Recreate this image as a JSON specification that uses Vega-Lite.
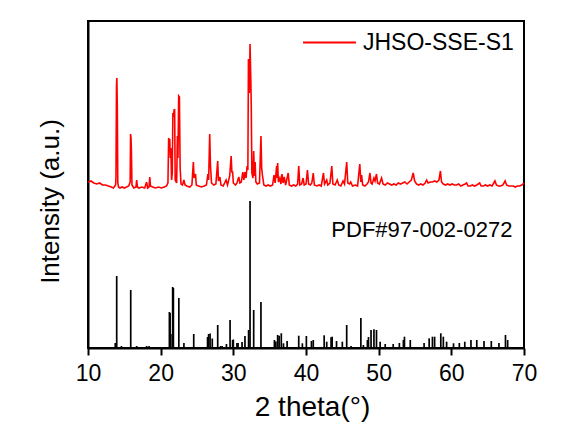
{
  "$schema": "https://vega.github.io/schema/vega-lite/v6.json",
  "autosize": {"type": "none"},
  "padding": {"left": 88, "top": 21, "right": 60, "bottom": 90},
  "width": 436,
  "height": 327,
  "background": "white",
  "config": {
    "font": "Liberation Sans",
    "view": {"stroke": "black", "strokeWidth": 2},
    "axis": {"domainColor": "black", "domainWidth": 2, "tickColor": "black", "tickWidth": 2, "labelColor": "black", "titleColor": "black", "grid": false, "titleFontWeight": "normal"}
  },
  "datasets": {
    "sample": [
      {"x": 10.0, "h": 166}, {"x": 10.4, "h": 167}, {"x": 10.8, "h": 165}, {"x": 11.2, "h": 164}, {"x": 11.6, "h": 165},
      {"x": 12.0, "h": 163}, {"x": 12.4, "h": 163}, {"x": 12.8, "h": 162}, {"x": 13.2, "h": 161}, {"x": 13.5, "h": 160},
      {"x": 13.8, "h": 163}, {"x": 13.85, "h": 171}, {"x": 13.92, "h": 262}, {"x": 13.97, "h": 270}, {"x": 14.03, "h": 243},
      {"x": 14.1, "h": 165}, {"x": 14.2, "h": 161}, {"x": 14.4, "h": 160}, {"x": 14.7, "h": 161}, {"x": 15.0, "h": 160},
      {"x": 15.3, "h": 161}, {"x": 15.6, "h": 162}, {"x": 15.8, "h": 166}, {"x": 15.86, "h": 214}, {"x": 15.92, "h": 210},
      {"x": 15.97, "h": 198}, {"x": 16.05, "h": 163}, {"x": 16.3, "h": 160}, {"x": 16.6, "h": 161}, {"x": 16.7, "h": 168},
      {"x": 16.8, "h": 161}, {"x": 17.0, "h": 160}, {"x": 17.4, "h": 161}, {"x": 17.8, "h": 160}, {"x": 18.07, "h": 166},
      {"x": 18.2, "h": 160}, {"x": 18.4, "h": 161}, {"x": 18.5, "h": 171}, {"x": 18.6, "h": 162}, {"x": 18.9, "h": 161},
      {"x": 19.3, "h": 160}, {"x": 19.7, "h": 161}, {"x": 20.1, "h": 160}, {"x": 20.5, "h": 161}, {"x": 20.8, "h": 162},
      {"x": 21.0, "h": 165}, {"x": 21.1, "h": 210}, {"x": 21.18, "h": 207}, {"x": 21.25, "h": 209}, {"x": 21.32, "h": 190},
      {"x": 21.4, "h": 200}, {"x": 21.5, "h": 168}, {"x": 21.6, "h": 175}, {"x": 21.68, "h": 235}, {"x": 21.75, "h": 231},
      {"x": 21.85, "h": 238}, {"x": 21.92, "h": 239}, {"x": 22.0, "h": 168}, {"x": 22.2, "h": 165}, {"x": 22.3, "h": 212},
      {"x": 22.38, "h": 190}, {"x": 22.48, "h": 252}, {"x": 22.58, "h": 251}, {"x": 22.68, "h": 180}, {"x": 22.8, "h": 164},
      {"x": 23.0, "h": 163}, {"x": 23.2, "h": 168}, {"x": 23.35, "h": 163}, {"x": 23.6, "h": 162}, {"x": 24.0, "h": 161},
      {"x": 24.3, "h": 163}, {"x": 24.5, "h": 186}, {"x": 24.6, "h": 170}, {"x": 24.8, "h": 174}, {"x": 24.9, "h": 163},
      {"x": 25.2, "h": 162}, {"x": 25.6, "h": 161}, {"x": 26.0, "h": 162}, {"x": 26.3, "h": 163}, {"x": 26.5, "h": 174},
      {"x": 26.6, "h": 168}, {"x": 26.75, "h": 214}, {"x": 26.85, "h": 183}, {"x": 27.0, "h": 165}, {"x": 27.3, "h": 163},
      {"x": 27.6, "h": 164}, {"x": 27.85, "h": 187}, {"x": 27.95, "h": 167}, {"x": 28.15, "h": 171}, {"x": 28.3, "h": 163},
      {"x": 28.6, "h": 162}, {"x": 29.0, "h": 168}, {"x": 29.2, "h": 163}, {"x": 29.5, "h": 172}, {"x": 29.6, "h": 182},
      {"x": 29.7, "h": 192}, {"x": 29.8, "h": 176}, {"x": 29.9, "h": 176}, {"x": 30.0, "h": 165}, {"x": 30.3, "h": 163},
      {"x": 30.5, "h": 165}, {"x": 30.75, "h": 171}, {"x": 30.9, "h": 165}, {"x": 31.1, "h": 166}, {"x": 31.3, "h": 176},
      {"x": 31.45, "h": 168}, {"x": 31.6, "h": 176}, {"x": 31.75, "h": 170}, {"x": 31.9, "h": 182}, {"x": 32.0, "h": 178},
      {"x": 32.08, "h": 289}, {"x": 32.2, "h": 255}, {"x": 32.3, "h": 304}, {"x": 32.4, "h": 270}, {"x": 32.47, "h": 241},
      {"x": 32.55, "h": 175}, {"x": 32.7, "h": 170}, {"x": 32.8, "h": 197}, {"x": 32.9, "h": 172}, {"x": 33.0, "h": 186},
      {"x": 33.1, "h": 166}, {"x": 33.3, "h": 164}, {"x": 33.6, "h": 165}, {"x": 33.8, "h": 212}, {"x": 33.9, "h": 180},
      {"x": 34.0, "h": 173}, {"x": 34.2, "h": 163}, {"x": 34.5, "h": 162}, {"x": 34.8, "h": 163}, {"x": 35.1, "h": 162},
      {"x": 35.4, "h": 163}, {"x": 35.6, "h": 173}, {"x": 35.75, "h": 165}, {"x": 35.96, "h": 182}, {"x": 36.05, "h": 170},
      {"x": 36.1, "h": 185}, {"x": 36.2, "h": 166}, {"x": 36.4, "h": 170}, {"x": 36.55, "h": 164}, {"x": 36.7, "h": 174},
      {"x": 36.85, "h": 165}, {"x": 37.0, "h": 171}, {"x": 37.2, "h": 163}, {"x": 37.55, "h": 175}, {"x": 37.7, "h": 163},
      {"x": 38.0, "h": 162}, {"x": 38.3, "h": 163}, {"x": 38.6, "h": 162}, {"x": 38.85, "h": 164}, {"x": 39.0, "h": 182},
      {"x": 39.15, "h": 163}, {"x": 39.4, "h": 164}, {"x": 39.6, "h": 170}, {"x": 39.75, "h": 163}, {"x": 40.0, "h": 164},
      {"x": 40.2, "h": 178}, {"x": 40.35, "h": 164}, {"x": 40.6, "h": 163}, {"x": 40.8, "h": 165}, {"x": 41.0, "h": 175},
      {"x": 41.15, "h": 163}, {"x": 41.5, "h": 162}, {"x": 41.8, "h": 163}, {"x": 42.1, "h": 162}, {"x": 42.4, "h": 175},
      {"x": 42.55, "h": 164}, {"x": 42.85, "h": 168}, {"x": 43.0, "h": 163}, {"x": 43.3, "h": 165}, {"x": 43.55, "h": 182},
      {"x": 43.7, "h": 164}, {"x": 44.0, "h": 163}, {"x": 44.3, "h": 168}, {"x": 44.5, "h": 163}, {"x": 44.8, "h": 162},
      {"x": 45.1, "h": 167}, {"x": 45.3, "h": 164}, {"x": 45.6, "h": 186}, {"x": 45.75, "h": 165}, {"x": 46.0, "h": 164},
      {"x": 46.15, "h": 166}, {"x": 46.4, "h": 162}, {"x": 46.8, "h": 163}, {"x": 47.1, "h": 162}, {"x": 47.4, "h": 184},
      {"x": 47.55, "h": 166}, {"x": 47.65, "h": 173}, {"x": 47.8, "h": 163}, {"x": 48.1, "h": 162}, {"x": 48.4, "h": 164},
      {"x": 48.6, "h": 166}, {"x": 48.8, "h": 175}, {"x": 48.95, "h": 165}, {"x": 49.1, "h": 164}, {"x": 49.35, "h": 170},
      {"x": 49.5, "h": 167}, {"x": 49.7, "h": 174}, {"x": 49.85, "h": 165}, {"x": 50.1, "h": 164}, {"x": 50.4, "h": 170},
      {"x": 50.6, "h": 164}, {"x": 50.9, "h": 163}, {"x": 51.2, "h": 165}, {"x": 51.5, "h": 164}, {"x": 51.8, "h": 163},
      {"x": 52.1, "h": 164}, {"x": 52.4, "h": 163}, {"x": 52.7, "h": 165}, {"x": 53.0, "h": 164}, {"x": 53.3, "h": 165},
      {"x": 53.6, "h": 166}, {"x": 53.9, "h": 164}, {"x": 54.2, "h": 166}, {"x": 54.5, "h": 168}, {"x": 54.75, "h": 175},
      {"x": 54.95, "h": 167}, {"x": 55.2, "h": 164}, {"x": 55.5, "h": 163}, {"x": 55.8, "h": 164}, {"x": 56.1, "h": 163},
      {"x": 56.4, "h": 165}, {"x": 56.6, "h": 168}, {"x": 56.8, "h": 165}, {"x": 57.1, "h": 166}, {"x": 57.4, "h": 166},
      {"x": 57.7, "h": 167}, {"x": 58.0, "h": 166}, {"x": 58.3, "h": 168}, {"x": 58.5, "h": 177}, {"x": 58.65, "h": 166},
      {"x": 58.9, "h": 164}, {"x": 59.2, "h": 163}, {"x": 59.5, "h": 164}, {"x": 59.8, "h": 163}, {"x": 60.1, "h": 164},
      {"x": 60.4, "h": 163}, {"x": 60.7, "h": 163}, {"x": 61.0, "h": 164}, {"x": 61.3, "h": 162}, {"x": 61.6, "h": 163},
      {"x": 61.9, "h": 164}, {"x": 62.1, "h": 165}, {"x": 62.3, "h": 162}, {"x": 62.6, "h": 162}, {"x": 62.9, "h": 163},
      {"x": 63.2, "h": 162}, {"x": 63.5, "h": 163}, {"x": 63.9, "h": 165}, {"x": 64.1, "h": 162}, {"x": 64.4, "h": 162},
      {"x": 64.7, "h": 163}, {"x": 65.0, "h": 162}, {"x": 65.3, "h": 163}, {"x": 65.6, "h": 162}, {"x": 66.0, "h": 167},
      {"x": 66.2, "h": 163}, {"x": 66.5, "h": 162}, {"x": 66.8, "h": 162}, {"x": 67.1, "h": 163}, {"x": 67.4, "h": 167},
      {"x": 67.6, "h": 163}, {"x": 67.9, "h": 162}, {"x": 68.2, "h": 162}, {"x": 68.5, "h": 162}, {"x": 68.8, "h": 161},
      {"x": 69.1, "h": 162}, {"x": 69.4, "h": 162}, {"x": 69.7, "h": 163}, {"x": 70.0, "h": 165}
    ],
    "reference": [
      {"x": 13.75, "h": 5}, {"x": 13.95, "h": 72}, {"x": 14.6, "h": 2}, {"x": 15.88, "h": 58}, {"x": 16.7, "h": 2},
      {"x": 18.07, "h": 2}, {"x": 18.4, "h": 2}, {"x": 21.2, "h": 36}, {"x": 21.3, "h": 35}, {"x": 21.4, "h": 14},
      {"x": 21.65, "h": 61}, {"x": 21.75, "h": 60}, {"x": 22.5, "h": 50}, {"x": 23.2, "h": 5}, {"x": 24.55, "h": 14},
      {"x": 26.45, "h": 11}, {"x": 26.6, "h": 14}, {"x": 26.8, "h": 14.5}, {"x": 27.1, "h": 9.5}, {"x": 27.85, "h": 23},
      {"x": 28.25, "h": 2}, {"x": 28.45, "h": 2}, {"x": 29.05, "h": 4}, {"x": 29.55, "h": 28}, {"x": 29.9, "h": 8},
      {"x": 30.0, "h": 8.5}, {"x": 30.5, "h": 5}, {"x": 30.65, "h": 5}, {"x": 31.2, "h": 6}, {"x": 31.6, "h": 12},
      {"x": 32.1, "h": 18}, {"x": 32.3, "h": 147}, {"x": 32.8, "h": 38}, {"x": 33.8, "h": 46}, {"x": 35.65, "h": 8},
      {"x": 35.85, "h": 6.5}, {"x": 36.1, "h": 13}, {"x": 36.3, "h": 12.3}, {"x": 36.6, "h": 14.7}, {"x": 36.9, "h": 4.7},
      {"x": 37.4, "h": 7}, {"x": 39.0, "h": 12.3}, {"x": 39.5, "h": 4.7}, {"x": 40.05, "h": 12}, {"x": 40.75, "h": 7},
      {"x": 41.0, "h": 8}, {"x": 42.5, "h": 12.7}, {"x": 42.85, "h": 6.3}, {"x": 43.45, "h": 10.7}, {"x": 43.6, "h": 11.3},
      {"x": 44.2, "h": 7}, {"x": 45.0, "h": 6.3}, {"x": 45.6, "h": 23}, {"x": 46.2, "h": 2}, {"x": 47.55, "h": 30},
      {"x": 47.9, "h": 3}, {"x": 48.45, "h": 8}, {"x": 48.6, "h": 11}, {"x": 48.95, "h": 18}, {"x": 49.35, "h": 18.7},
      {"x": 49.7, "h": 18}, {"x": 50.2, "h": 6.3}, {"x": 50.9, "h": 4}, {"x": 52.0, "h": 4}, {"x": 52.85, "h": 5},
      {"x": 53.4, "h": 8}, {"x": 53.55, "h": 11.3}, {"x": 54.35, "h": 8}, {"x": 56.25, "h": 5}, {"x": 56.95, "h": 9.7},
      {"x": 57.4, "h": 11.3}, {"x": 57.7, "h": 11.3}, {"x": 58.55, "h": 14.7}, {"x": 58.9, "h": 11.3}, {"x": 59.35, "h": 6.3},
      {"x": 60.3, "h": 4.7}, {"x": 61.1, "h": 5}, {"x": 61.85, "h": 6.3}, {"x": 62.7, "h": 8}, {"x": 63.5, "h": 8},
      {"x": 64.5, "h": 7}, {"x": 65.5, "h": 7}, {"x": 66.55, "h": 5}, {"x": 67.45, "h": 13}, {"x": 67.75, "h": 8}
    ]
  },
  "layer": [
    {
      "data": {"name": "reference"},
      "mark": {"type": "rule", "color": "black", "strokeWidth": 1.7},
      "encoding": {
        "x": {"field": "x", "type": "quantitative", "scale": {"domain": [10, 70], "nice": false, "zero": false},
          "axis": {"orient": "bottom", "values": [10, 15, 20, 25, 30, 35, 40, 45, 50, 55, 60, 65, 70],
            "labelExpr": "datum.value % 10 === 0 ? datum.label : ''",
            "tickSize": {"condition": {"test": "datum.value % 10 !== 0", "value": 3.5}, "value": 7},
            "title": "2 theta(°)", "labelFontSize": 23, "labelPadding": 7, "labelFlush": false, "labelOverlap": false,
            "titleFontSize": 28, "titleBaseline": "alphabetic", "titleY": 67, "titleX": 224, "titleAlign": "center"}},
        "y": {"field": "h", "type": "quantitative", "scale": {"domain": [0, 327], "nice": false},
          "axis": {"title": "Intensity (a.u.)", "labels": false, "ticks": false, "titleFontSize": 26, "titleAngle": 270,
            "titleBaseline": "alphabetic", "titleX": -30, "titleY": 180, "titleAlign": "center"}},
        "y2": {"datum": 0}
      }
    },
    {
      "data": {"name": "sample"},
      "transform": [{"calculate": "'JHSO-SSE-S1'", "as": "series"}],
      "mark": {"type": "line", "strokeWidth": 1.6, "interpolate": "linear"},
      "encoding": {
        "x": {"field": "x", "type": "quantitative"},
        "y": {"field": "h", "type": "quantitative"},
        "color": {"field": "series", "type": "nominal", "scale": {"range": ["#ff0000"]},
          "legend": {"title": null, "orient": "none", "legendX": 214, "legendY": -6, "symbolType": "stroke", "symbolSize": 2800,
            "symbolStrokeWidth": 2, "labelFontSize": 23, "labelColor": "black", "labelOffset": 6, "padding": 0}}
      }
    },
    {
      "data": {"values": [{}]},
      "mark": {"type": "text", "align": "right", "baseline": "middle", "fontSize": 22, "color": "black"},
      "encoding": {
        "x": {"datum": 68.4, "type": "quantitative"},
        "y": {"datum": 118, "type": "quantitative"},
        "text": {"value": "PDF#97-002-0272"}
      }
    }
  ]
}
